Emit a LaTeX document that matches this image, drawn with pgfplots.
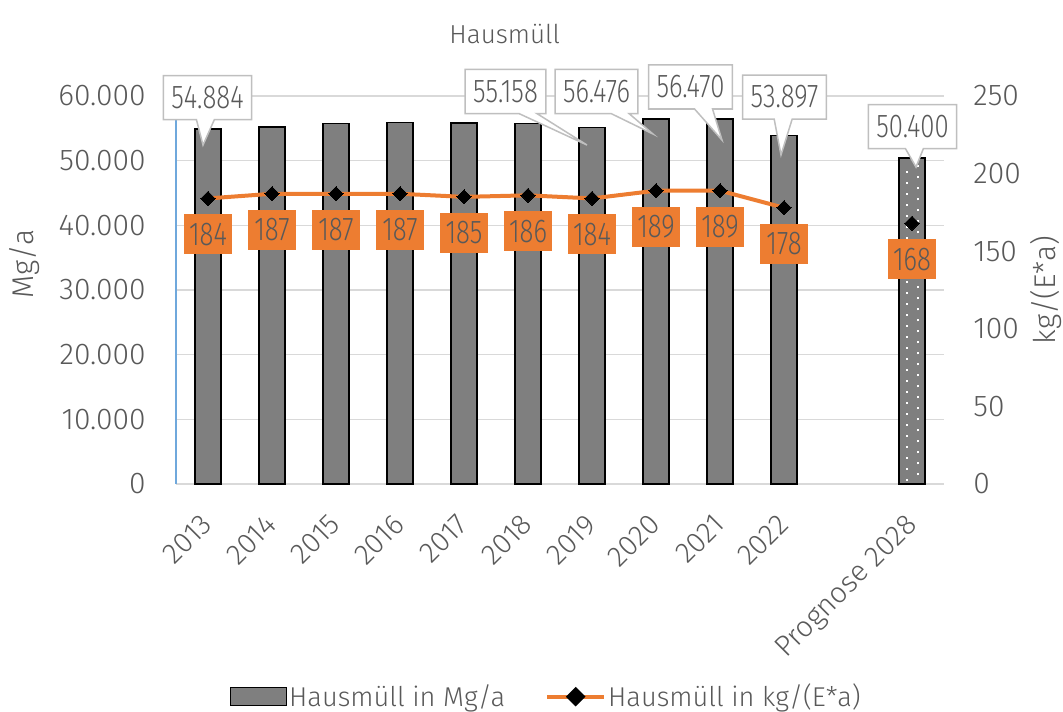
\documentclass[border=0pt]{standalone}
\usepackage{fontspec}
\setmainfont{Fira Sans}[UprightFont={* Light}]
\newfontfamily\dinfont{Fira Sans}[UprightFont={* Light}, FakeStretch=0.78]
\usepackage{pgfplots}
\pgfplotsset{compat=1.18}
\usetikzlibrary{shapes.callouts}
\definecolor{barc}{HTML}{7F7F7F}
\definecolor{txt}{HTML}{595959}
\definecolor{gridc}{HTML}{D9D9D9}
\definecolor{orng}{HTML}{ED7D31}
\definecolor{callc}{HTML}{BFBFBF}
\definecolor{bluec}{HTML}{6FA8DC}
\newcommand{\tickfont}{\fontsize{15}{17}\selectfont}
\newcommand{\xtickfont}{\fontsize{14.5}{17}\selectfont}
\newcommand{\labfont}{\dinfont\fontsize{16.5}{18}\selectfont}
\newcommand{\legfont}{\fontsize{13.6}{16}\selectfont}
\newcommand{\titfont}{\fontsize{13}{15}\selectfont}

\pgfplotstableread{
x y
0 54884
1 55210
2 55730
3 55890
4 55830
5 55780
6 55158
7 56476
8 56470
9 53897
}\barsdata

\pgfplotstableread{
x y
0 184
1 187
2 187
3 187
4 185
5 186
6 184
7 189
8 189
9 178
}\linedata

\pgfplotstableread{
x y
11 168
}\progline

\pgfplotsset{
  common/.style={
    at={(0,0)}, anchor=south west, scale only axis,
    width=384pt, height=194pt,
    xmin=-0.5, xmax=11.5,
    major tick length=0pt,
    /pgf/number format/assume math mode=true,
    /pgf/number format/1000 sep={.},
    tick label style={font=\tickfont, text=txt},
  },
}
\tikzset{
  mycall/.style={rectangle callout, fill=white, draw=callc, line width=0.75pt,
    text=txt, font=\labfont, inner xsep=4pt, inner ysep=0pt,
    minimum height=22pt, callout pointer width=9pt},
}

\begin{document}
\begin{tikzpicture}
\begin{axis}[common,
  ymin=0, ymax=60000,
  ytick={0,10000,...,60000},
  scaled y ticks=false,
  xtick={0,1,2,3,4,5,6,7,8,9,11},
  xticklabels={2013,2014,2015,2016,2017,2018,2019,2020,2021,2022,Prognose 2028},
  axis x line*=bottom, axis y line*=left,
  x axis line style={draw=gridc, line width=0.75pt},
  y axis line style={draw=bluec, line width=0.75pt},
  ymajorgrids, grid style={draw=gridc, line width=0.75pt},
  yticklabel style={anchor=east, inner sep=0pt, xshift=-15pt},
  xticklabel style={font=\xtickfont, xshift=-4pt, yshift=-14pt, rotate=45, anchor=north east, inner sep=0pt},
  ylabel={Mg/a},
  ylabel style={at={(axis description cs:-0.197,0.567)}, anchor=center, font=\tickfont, text=txt},
  title={Hausmüll},
  title style={at={(axis description cs:0.428,1.128)}, anchor=center, yshift=0pt, font=\titfont, text=txt},
]
\addplot[ybar, bar width=13pt, bar shift=0pt, fill=barc, draw=black, line width=0.75pt] table[x=x,y=y]{\barsdata};
\addplot[ybar, bar width=13pt, bar shift=0pt, fill=barc, draw=black, line width=0.75pt] coordinates {(11,50400)};
\addplot[white, line width=1pt, dash pattern=on 1pt off 4.5pt] coordinates {(10.914,500) (10.914,49800)};
\addplot[white, line width=1pt, dash pattern=on 1pt off 4.5pt, dash phase=2.75pt] coordinates {(11.086,500) (11.086,49800)};
\end{axis}

\begin{axis}[common,
  ymin=0, ymax=250,
  ytick={0,50,...,250},
  axis y line*=right, axis x line=none,
  y axis line style={draw=none},
  yticklabel style={anchor=west, inner sep=0pt, xshift=14.5pt},
  ylabel={kg/(E*a)},
  ylabel style={at={(axis description cs:1.133,0.5)}, anchor=center, font=\tickfont, text=txt},
  clip=false,
  legend style={at={(axis description cs:0.482,-0.548)}, anchor=center, draw=none, fill=none,
    legend columns=2, font=\legfont, text=txt,
    nodes={inner sep=1pt},
    /tikz/every even column/.append style={column sep=19pt}},
  legend cell align=left,
  lbl/.style={nodes near coords, point meta=explicit symbolic,
    every node near coord/.append style={anchor=center, yshift=-18pt, fill=orng,
      text=txt, font=\labfont, minimum width=24pt, minimum height=20pt, inner sep=0pt}},
]
\addlegendimage{legend image code/.code={\draw[fill=barc,draw=black,line width=0.75pt] (0pt,-4.5pt) rectangle (28pt,4.5pt);}}
\addlegendentry{Hausmüll in Mg/a}
\addplot[orng, line width=2pt, mark=square*, mark size=2.5pt,
  mark options={fill=black, draw=black, rotate=45, line width=0pt},
  lbl,
  legend image code/.code={\draw[orng, line width=2pt] (0pt,0pt) -- (28.5pt,0pt);
     \fill[black] (14.25pt,-3.5pt) -- (17.75pt,0pt) -- (14.25pt,3.5pt) -- (10.75pt,0pt) -- cycle;}]
  table[x=x, y=y, meta=y]{\linedata};
\addlegendentry{Hausmüll in kg/(E*a)}
\addplot[draw=none, mark=square*, mark size=2.5pt,
  mark options={fill=black, draw=black, rotate=45, line width=0pt},
  lbl, forget plot]
  table[x=x, y=y, meta=y]{\progline};

\node[mycall, callout absolute pointer={(axis cs:-0.078,218.4)}] at (axis cs:-0.008,249.0) {54.884};
\node[mycall, callout absolute pointer={(axis cs:5.922,218.4)}] at (axis cs:4.648,252.9) {55.158};
\node[mycall, callout absolute pointer={(axis cs:6.953,225.5)}] at (axis cs:6.070,252.9) {56.476};
\node[mycall, callout absolute pointer={(axis cs:8.031,221.6)}] at (axis cs:7.539,255.8) {56.470};
\node[mycall, callout absolute pointer={(axis cs:8.953,212.0)}] at (axis cs:9.008,249.3) {53.897};
\node[mycall, callout absolute pointer={(axis cs:11.0625,204.2)}] at (axis cs:11.008,230.3) {50.400};
\end{axis}
\pgfresetboundingbox
\path[use as bounding box] (-88pt,-113.5pt) rectangle (443.5pt,242pt);
\end{tikzpicture}
\end{document}
